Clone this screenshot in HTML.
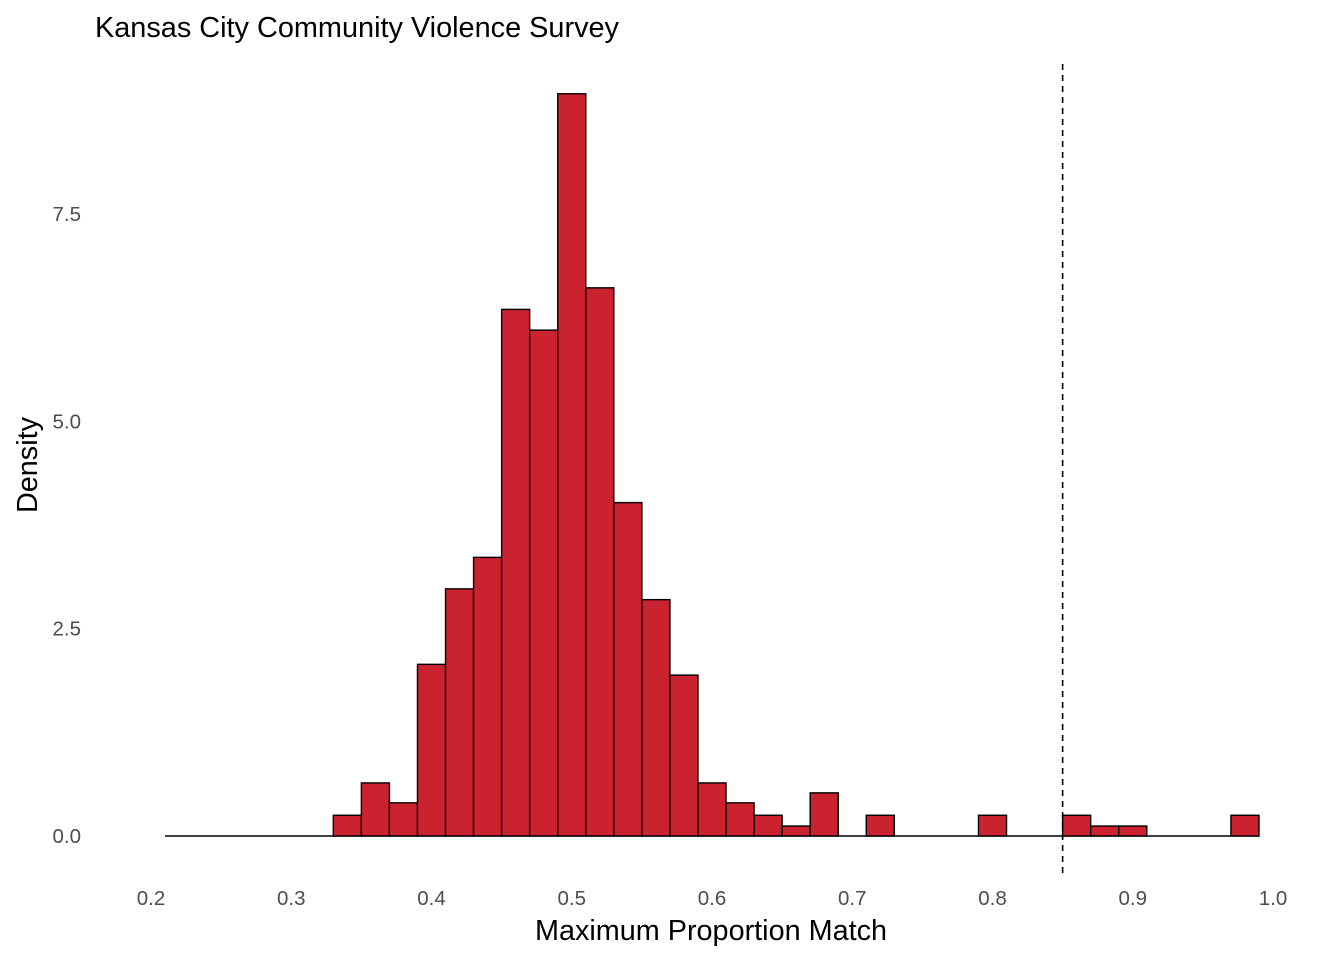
<!DOCTYPE html>
<html><head><meta charset="utf-8"><style>
body{margin:0;background:#fff}
svg{font-family:"Liberation Sans",Arial,sans-serif}
</style></head><body>
<svg id="chart" width="1344" height="960" xmlns="http://www.w3.org/2000/svg">
<text x="95" y="37" font-size="28.8" fill="#000" textLength="524" lengthAdjust="spacingAndGlyphs">Kansas City Community Violence Survey</text>
<text x="711" y="940" font-size="28.8" text-anchor="middle" fill="#000">Maximum Proportion Match</text>
<text transform="translate(37,465) rotate(-90)" font-size="28.8" text-anchor="middle" fill="#000">Density</text>
<g id="xticks"></g>
<g id="yticks"></g>
<g id="bars"></g>
<g id="ref"></g>
</svg>
<script>
const binStarts=[0.21,0.23,0.25,0.27,0.29,0.31,0.33,0.35,0.37,0.39,0.41,0.43,0.45,0.47,0.49,0.51,0.53,0.55,0.57,0.59,0.61,0.63,0.65,0.67,0.69,0.71,0.73,0.75,0.77,0.79,0.81,0.83,0.85,0.87,0.89,0.91,0.93,0.95,0.97];
const densities=[0,0,0,0,0,0,0.25,0.64,0.40,2.07,2.98,3.36,6.35,6.10,8.95,6.61,4.02,2.85,1.94,0.64,0.40,0.25,0.12,0.52,0,0.25,0,0,0,0.25,0,0,0.25,0.12,0.12,0,0,0,0.25];
const binWidth=0.02;
const xTicks=[0.2,0.3,0.4,0.5,0.6,0.7,0.8,0.9,1.0];
const xTickLabels=["0.2","0.3","0.4","0.5","0.6","0.7","0.8","0.9","1.0"];
const yTicks=[0,2.5,5,7.5];
const yTickLabels=["0.0","2.5","5.0","7.5"];
const refLineX=0.85;
const NS="http://www.w3.org/2000/svg";
const xs=v=>151+(v-0.2)*1402.5;
const ys=v=>836-v*82.93;
function mk(tag,attrs,parent){const e=document.createElementNS(NS,tag);for(const k in attrs)e.setAttribute(k,attrs[k]);parent.appendChild(e);return e;}
const xg=document.getElementById('xticks'),yg=document.getElementById('yticks'),bg=document.getElementById('bars'),rg=document.getElementById('ref');
xTicks.forEach((t,i)=>{const e=mk('text',{x:xs(t),y:905,'font-size':20.5,'text-anchor':'middle',fill:'#4d4d4d'},xg);e.textContent=xTickLabels[i];

});
yTicks.forEach((t,i)=>{const e=mk('text',{x:81,y:ys(t)+7,'font-size':20.5,'text-anchor':'end',fill:'#4d4d4d'},yg);e.textContent=yTickLabels[i];

});
const base=mk('line',{x1:xs(binStarts[0]),x2:xs(binStarts[binStarts.length-1]+binWidth),y1:ys(0),y2:ys(0),stroke:'#000','stroke-width':1.6},bg);


binStarts.forEach((b,i)=>{const d=densities[i];if(d<=0)return;const x0=xs(b),x1=xs(b+binWidth);const y=ys(d);
const r=mk('rect',{x:x0,y:y,width:x1-x0,height:Math.max(ys(0)-y,0),fill:'#cb2230',stroke:'#000','stroke-width':1.4},bg);

});
const l=mk('line',{x1:xs(refLineX),x2:xs(refLineX),y1:64,y2:873,stroke:'#000','stroke-width':1.6,'stroke-dasharray':'6,5'},rg);


</script>
</body></html>
